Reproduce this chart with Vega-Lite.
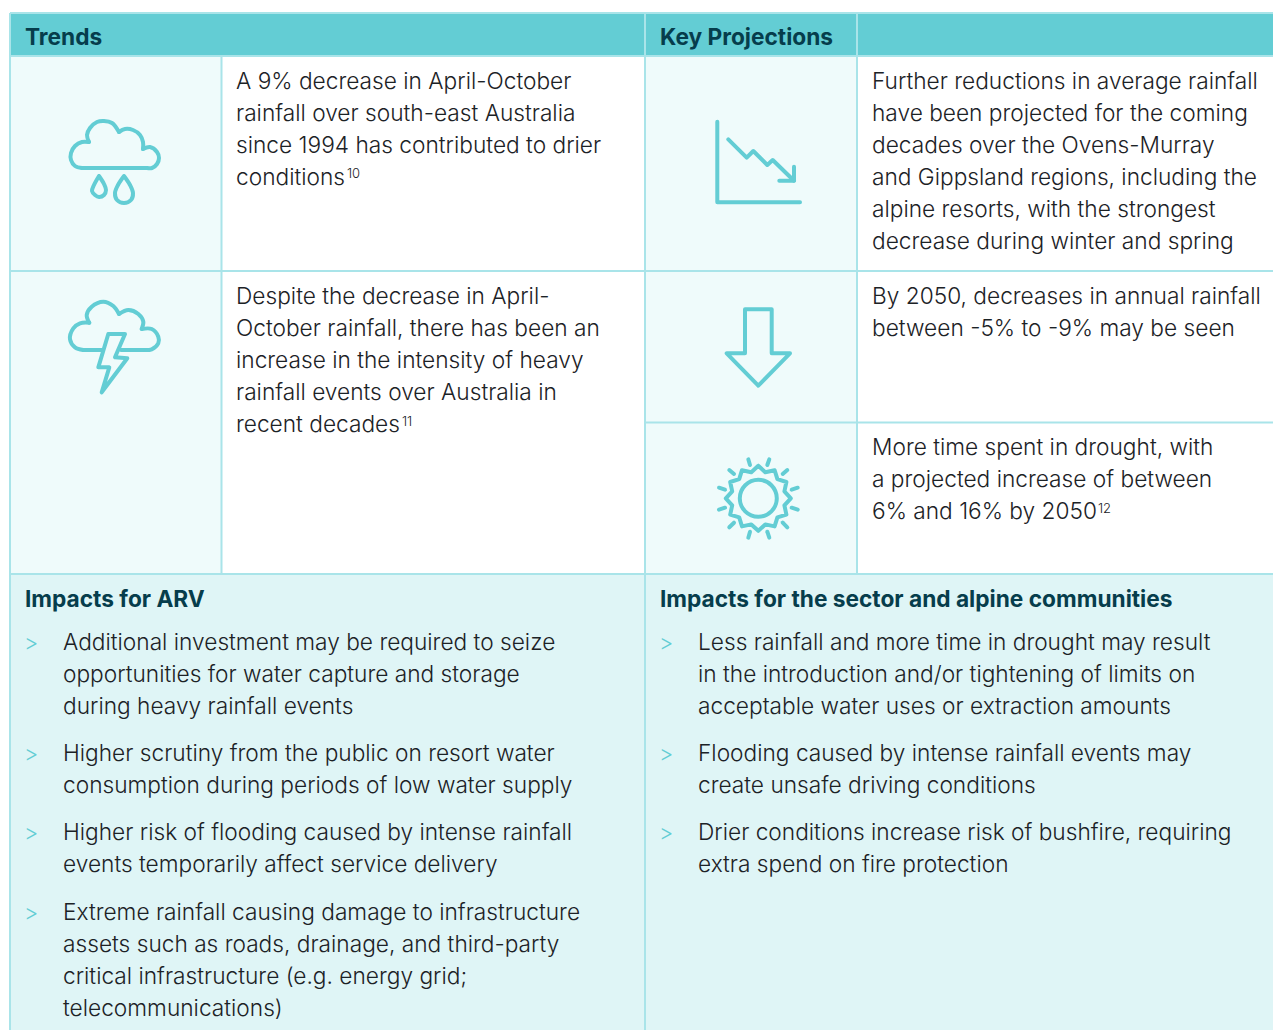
{
"$schema":"https://vega.github.io/schema/vega-lite/v6.json",
"width":1273,"height":1030,"padding":0,"autosize":{"type":"none"},"background":"white",
"view":{"stroke":null},
"config":{"axis":{"grid":false}},
"datasets":{
"panels":[
{"kind":"header","x":10,"x2":1273,"y":13,"y2":55},
{"kind":"icon","x":10,"x2":221,"y":56,"y2":574},
{"kind":"icon","x":645,"x2":857,"y":56,"y2":574},
{"kind":"body","x":221,"x2":645,"y":56,"y2":574},
{"kind":"body","x":857,"x2":1273,"y":56,"y2":574},
{"kind":"impact","x":10,"x2":1273,"y":574,"y2":1030}
],
"borders":[
{"x":10,"x2":1273,"y":13,"y2":13},
{"x":10,"x2":1273,"y":56,"y2":56},
{"x":10,"x2":1273,"y":271,"y2":271},
{"x":645,"x2":1273,"y":422.5,"y2":422.5},
{"x":10,"x2":1273,"y":574,"y2":574},
{"x":10,"x2":10,"y":13,"y2":1030},
{"x":221.5,"x2":221.5,"y":56,"y2":574},
{"x":645,"x2":645,"y":13,"y2":1030},
{"x":857,"x2":857,"y":13,"y2":574}
],
"smooth":[
{"p":"c1","i":1,"x":82,"y":168},{"p":"c1","i":2,"x":75,"y":166},{"p":"c1","i":3,"x":71,"y":160},{"p":"c1","i":4,"x":71,"y":153},{"p":"c1","i":5,"x":75,"y":146},{"p":"c1","i":6,"x":82,"y":142},{"p":"c1","i":7,"x":89,"y":142},
{"p":"c2","i":1,"x":89,"y":142},{"p":"c2","i":2,"x":87,"y":135},{"p":"c2","i":3,"x":90,"y":128},{"p":"c2","i":4,"x":97,"y":122},{"p":"c2","i":5,"x":104,"y":121},{"p":"c2","i":6,"x":112,"y":123},{"p":"c2","i":7,"x":119,"y":132},
{"p":"c3","i":1,"x":119,"y":132},{"p":"c3","i":2,"x":125,"y":129},{"p":"c3","i":3,"x":133,"y":130},{"p":"c3","i":4,"x":140,"y":135},{"p":"c3","i":5,"x":143,"y":142},{"p":"c3","i":6,"x":143,"y":149},
{"p":"c4","i":1,"x":143,"y":149},{"p":"c4","i":2,"x":150,"y":147},{"p":"c4","i":3,"x":157,"y":152},{"p":"c4","i":4,"x":159,"y":158},{"p":"c4","i":5,"x":157,"y":164},{"p":"c4","i":6,"x":152,"y":168},{"p":"c4","i":7,"x":147,"y":168},
{"p":"c5","i":1,"x":147,"y":168},{"p":"c5","i":2,"x":82,"y":168},
{"p":"d1","i":1,"x":99,"y":176},{"p":"d1","i":2,"x":94,"y":185},{"p":"d1","i":3,"x":92,"y":191},{"p":"d1","i":4,"x":95,"y":195},{"p":"d1","i":5,"x":99,"y":197},{"p":"d1","i":6,"x":104,"y":195},{"p":"d1","i":7,"x":106,"y":190},{"p":"d1","i":8,"x":104,"y":184},{"p":"d1","i":9,"x":99,"y":176},
{"p":"d2","i":1,"x":124,"y":176},{"p":"d2","i":2,"x":118,"y":185},{"p":"d2","i":3,"x":115,"y":193},{"p":"d2","i":4,"x":117,"y":200},{"p":"d2","i":5,"x":124,"y":203},{"p":"d2","i":6,"x":131,"y":200},{"p":"d2","i":7,"x":133,"y":193},{"p":"d2","i":8,"x":130,"y":185},{"p":"d2","i":9,"x":124,"y":176},
{"p":"e1","i":1,"x":83.3,"y":350},{"p":"e1","i":2,"x":75,"y":347.3},{"p":"e1","i":3,"x":70,"y":339.3},{"p":"e1","i":4,"x":73.3,"y":328.3},{"p":"e1","i":5,"x":80,"y":323.3},{"p":"e1","i":6,"x":89.3,"y":322.7},
{"p":"e2","i":1,"x":89.3,"y":322.7},{"p":"e2","i":2,"x":86.7,"y":315},{"p":"e2","i":3,"x":91.7,"y":306.7},{"p":"e2","i":4,"x":103.3,"y":301.7},{"p":"e2","i":5,"x":113.3,"y":306},{"p":"e2","i":6,"x":119,"y":314},
{"p":"e3","i":1,"x":119,"y":314},{"p":"e3","i":2,"x":128.3,"y":310},{"p":"e3","i":3,"x":138.3,"y":314},{"p":"e3","i":4,"x":143.3,"y":321.7},{"p":"e3","i":5,"x":141.7,"y":329},
{"p":"e4","i":1,"x":141.7,"y":329},{"p":"e4","i":2,"x":151.7,"y":329},{"p":"e4","i":3,"x":158.3,"y":336.7},{"p":"e4","i":4,"x":158.3,"y":343.3},{"p":"e4","i":5,"x":151.7,"y":349.3},{"p":"e4","i":6,"x":143.3,"y":350}
],
"straight":[
{"p":"e5","i":1,"x":83.3,"y":350},{"p":"e5","i":2,"x":101.7,"y":350},
{"p":"e6","i":1,"x":121,"y":350},{"p":"e6","i":2,"x":143.3,"y":350},
{"p":"b","i":1,"x":108.3,"y":334},{"p":"b","i":2,"x":125,"y":334},{"p":"b","i":3,"x":115,"y":357.3},{"p":"b","i":4,"x":127.3,"y":358.3},{"p":"b","i":5,"x":101.7,"y":392.3},{"p":"b","i":6,"x":109.3,"y":367.3},{"p":"b","i":7,"x":98.3,"y":367.3},{"p":"b","i":8,"x":108.3,"y":334},
{"p":"g1","i":1,"x":717.3,"y":121.7},{"p":"g1","i":2,"x":717.3,"y":202.3},{"p":"g1","i":3,"x":800,"y":202.3},
{"p":"g2","i":1,"x":728.3,"y":139.3},{"p":"g2","i":2,"x":746.7,"y":157.7},{"p":"g2","i":3,"x":753.3,"y":151},{"p":"g2","i":4,"x":767.3,"y":165},{"p":"g2","i":5,"x":772.7,"y":160},{"p":"g2","i":6,"x":794,"y":180.7},
{"p":"g3","i":1,"x":779.3,"y":180.7},{"p":"g3","i":2,"x":794,"y":180.7},{"p":"g3","i":3,"x":794,"y":166.7},
{"p":"a","i":1,"x":745,"y":353.3},{"p":"a","i":2,"x":745,"y":309.3},{"p":"a","i":3,"x":771.7,"y":309.3},{"p":"a","i":4,"x":771.7,"y":353.3},{"p":"a","i":5,"x":790,"y":353.3},{"p":"a","i":6,"x":758.3,"y":385.7},{"p":"a","i":7,"x":726.7,"y":353.3},{"p":"a","i":8,"x":745,"y":353.3},
{"p":"s","i":1,"x":758.3,"y":465.8},{"p":"s","i":2,"x":765.3,"y":472.2},{"p":"s","i":3,"x":774.6,"y":470.2},{"p":"s","i":4,"x":777.4,"y":479.2},{"p":"s","i":5,"x":786.4,"y":482},{"p":"s","i":6,"x":784.4,"y":491.3},{"p":"s","i":7,"x":790.8,"y":498.3},{"p":"s","i":8,"x":784.4,"y":505.3},{"p":"s","i":9,"x":786.4,"y":514.6},{"p":"s","i":10,"x":777.4,"y":517.4},{"p":"s","i":11,"x":774.6,"y":526.4},{"p":"s","i":12,"x":765.3,"y":524.4},{"p":"s","i":13,"x":758.3,"y":530.8},{"p":"s","i":14,"x":751.3,"y":524.4},{"p":"s","i":15,"x":742,"y":526.4},{"p":"s","i":16,"x":739.2,"y":517.4},{"p":"s","i":17,"x":730.2,"y":514.6},{"p":"s","i":18,"x":732.2,"y":505.3},{"p":"s","i":19,"x":725.8,"y":498.3},{"p":"s","i":20,"x":732.2,"y":491.3},{"p":"s","i":21,"x":730.2,"y":482},{"p":"s","i":22,"x":739.2,"y":479.2},{"p":"s","i":23,"x":742,"y":470.2},{"p":"s","i":24,"x":751.3,"y":472.2},{"p":"s","i":25,"x":758.3,"y":465.8},
{"p":"r1","i":1,"x":748.3,"y":459.3},{"p":"r1","i":2,"x":750,"y":465},
{"p":"r2","i":1,"x":769.3,"y":459.3},{"p":"r2","i":2,"x":767.3,"y":465},
{"p":"r3","i":1,"x":729.3,"y":470},{"p":"r3","i":2,"x":734,"y":474},
{"p":"r4","i":1,"x":787.3,"y":470},{"p":"r4","i":2,"x":782.7,"y":474},
{"p":"r5","i":1,"x":719,"y":487.7},{"p":"r5","i":2,"x":725,"y":489.7},
{"p":"r6","i":1,"x":797.7,"y":487.7},{"p":"r6","i":2,"x":791.7,"y":489.7},
{"p":"r7","i":1,"x":719,"y":509.7},{"p":"r7","i":2,"x":725,"y":507.7},
{"p":"r8","i":1,"x":797.7,"y":509.7},{"p":"r8","i":2,"x":791.7,"y":507.7},
{"p":"r9","i":1,"x":729.3,"y":527.3},{"p":"r9","i":2,"x":734,"y":522.7},
{"p":"r10","i":1,"x":787.3,"y":527.3},{"p":"r10","i":2,"x":782.7,"y":522.7},
{"p":"r11","i":1,"x":748.3,"y":537.7},{"p":"r11","i":2,"x":750,"y":531.7},
{"p":"r12","i":1,"x":769.3,"y":537.7},{"p":"r12","i":2,"x":767.3,"y":531.7}
],
"headings":[
{"x":25,"y":45,"t":"Trends"},{"x":660,"y":45,"t":"Key Projections"},
{"x":25,"y":607,"t":"Impacts for ARV"},{"x":660,"y":607,"t":"Impacts for the sector and alpine communities"}
],
"body":[
{"x":236,"y":89,"t":"A 9% decrease in April-October"},
{"x":236,"y":121,"t":"rainfall over south-east Australia"},
{"x":236,"y":153,"t":"since 1994 has contributed to drier"},
{"x":236,"y":185,"t":"conditions"},
{"x":236,"y":304,"t":"Despite the decrease in April-"},
{"x":236,"y":336,"t":"October rainfall, there has been an"},
{"x":236,"y":368,"t":"increase in the intensity of heavy"},
{"x":236,"y":400,"t":"rainfall events over Australia in"},
{"x":236,"y":432,"t":"recent decades"},
{"x":872,"y":89,"t":"Further reductions in average rainfall"},
{"x":872,"y":121,"t":"have been projected for the coming"},
{"x":872,"y":153,"t":"decades over the Ovens-Murray"},
{"x":872,"y":185,"t":"and Gippsland regions, including the"},
{"x":872,"y":217,"t":"alpine resorts, with the strongest"},
{"x":872,"y":249,"t":"decrease during winter and spring"},
{"x":872,"y":304,"t":"By 2050, decreases in annual rainfall"},
{"x":872,"y":336,"t":"between -5% to -9% may be seen"},
{"x":872,"y":455,"t":"More time spent in drought, with"},
{"x":872,"y":487,"t":"a projected increase of between"},
{"x":872,"y":519,"t":"6% and 16% by 2050"},
{"x":63,"y":650,"t":"Additional investment may be required to seize"},
{"x":63,"y":682,"t":"opportunities for water capture and storage"},
{"x":63,"y":714,"t":"during heavy rainfall events"},
{"x":63,"y":761,"t":"Higher scrutiny from the public on resort water"},
{"x":63,"y":793,"t":"consumption during periods of low water supply"},
{"x":63,"y":840,"t":"Higher risk of flooding caused by intense rainfall"},
{"x":63,"y":872,"t":"events temporarily affect service delivery"},
{"x":63,"y":920,"t":"Extreme rainfall causing damage to infrastructure"},
{"x":63,"y":952,"t":"assets such as roads, drainage, and third-party"},
{"x":63,"y":984,"t":"critical infrastructure (e.g. energy grid;"},
{"x":63,"y":1016,"t":"telecommunications)"},
{"x":698,"y":650,"t":"Less rainfall and more time in drought may result"},
{"x":698,"y":682,"t":"in the introduction and/or tightening of limits on"},
{"x":698,"y":714,"t":"acceptable water uses or extraction amounts"},
{"x":698,"y":761,"t":"Flooding caused by intense rainfall events may"},
{"x":698,"y":793,"t":"create unsafe driving conditions"},
{"x":698,"y":840,"t":"Drier conditions increase risk of bushfire, requiring"},
{"x":698,"y":872,"t":"extra spend on fire protection"}
],
"sups":[
{"x":347,"y":178,"t":"10"},{"x":402,"y":426,"t":"11"},{"x":1098,"y":513,"t":"12"}
],
"chev":[
{"x":24,"y":650},{"x":24,"y":761},{"x":24,"y":840},{"x":24,"y":920},
{"x":659,"y":650},{"x":659,"y":761},{"x":659,"y":840}
],
"sun":[{"x":758.3,"y":498.3}]
},
"encoding":{
"x":{"field":"x","type":"quantitative","axis":null,"scale":{"domain":[0,1273],"nice":false,"zero":false}},
"y":{"field":"y","type":"quantitative","axis":null,"scale":{"domain":[0,1030],"reverse":true,"nice":false,"zero":false}}
},
"layer":[
{"data":{"name":"panels"},"mark":{"type":"rect"},"encoding":{"x2":{"field":"x2"},"y2":{"field":"y2"},"color":{"field":"kind","type":"nominal","legend":null,"scale":{"domain":["header","icon","body","impact"],"range":["#63CDD4","#EFFBFB","#FFFFFF","#DFF5F6"]}}}},
{"data":{"name":"borders"},"mark":{"type":"rule","color":"#A9E4E9","strokeWidth":2},"encoding":{"x2":{"field":"x2"},"y2":{"field":"y2"}}},
{"data":{"name":"smooth"},"mark":{"type":"line","interpolate":"catmull-rom","color":"#63CDD4","strokeWidth":4,"strokeCap":"round","strokeJoin":"round"},"encoding":{"detail":{"field":"p"},"order":{"field":"i","type":"quantitative"}}},
{"data":{"name":"straight"},"transform":[{"filter":"datum.p[0]!='r'"}],"mark":{"type":"line","color":"#63CDD4","strokeWidth":4,"strokeCap":"round","strokeJoin":"round"},"encoding":{"detail":{"field":"p"},"order":{"field":"i","type":"quantitative"}}},
{"data":{"name":"straight"},"transform":[{"filter":"datum.p[0]=='r'"}],"mark":{"type":"line","color":"#63CDD4","strokeWidth":4,"strokeCap":"round"},"encoding":{"detail":{"field":"p"},"order":{"field":"i","type":"quantitative"}}},
{"data":{"name":"sun"},"mark":{"type":"point","filled":false,"size":1369,"color":"#63CDD4","strokeWidth":4,"opacity":1}},
{"data":{"name":"headings"},"mark":{"type":"text","align":"left","baseline":"alphabetic","font":"Inter","fontSize":22.7,"fontWeight":700,"color":"#063D4C"},"encoding":{"text":{"field":"t"}}},
{"data":{"name":"body"},"mark":{"type":"text","align":"left","baseline":"alphabetic","font":"Inter","fontSize":22.7,"fontWeight":300,"color":"#1C2226"},"encoding":{"text":{"field":"t"}}},
{"data":{"name":"sups"},"mark":{"type":"text","align":"left","baseline":"alphabetic","font":"Inter","fontSize":13,"fontWeight":300,"color":"#1C2226"},"encoding":{"text":{"field":"t"}}},
{"data":{"name":"chev"},"mark":{"type":"text","align":"left","baseline":"alphabetic","font":"Inter","fontSize":22,"fontWeight":300,"color":"#63CDD4","text":">"}}
]
}
